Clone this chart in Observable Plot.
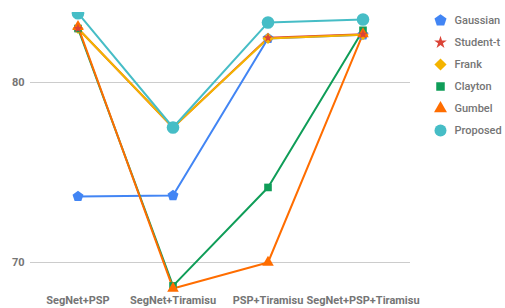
<!DOCTYPE html>
<html>
<head>
<meta charset="utf-8">
<script src="https://cdn.jsdelivr.net/npm/d3@7"></script>
<script src="https://cdn.jsdelivr.net/npm/@observablehq/plot@0.6"></script>
<style>
  html, body { margin: 0; padding: 0; background: #fff; }
  #wrap { position: relative; width: 505px; height: 308px; font-family: Roboto, sans-serif; }
  #legend { position: absolute; left: 430px; top: 0px; }
</style>
</head>
<body>
<div id="wrap"><div id="chart"></div><div id="legend"></div></div>
<script>
const categories = ["SegNet+PSP", "SegNet+Tiramisu", "PSP+Tiramisu", "SegNet+PSP+Tiramisu"];
const series = ["Gaussian", "Student-t", "Frank", "Clayton", "Gumbel", "Proposed"];
const gaussian = [73.67, 73.72, 82.45, 82.65];
const studentT = [83.0, 77.5, 82.48, 82.68];
const frank    = [83.0, 77.5, 82.45, 82.65];
const clayton  = [83.0, 68.7, 74.17, 82.9];
const gumbel   = [83.1, 68.56, 70.0, 82.7];
const proposed = [83.85, 77.5, 83.33, 83.5];
const colors = ["#4285F4", "#DB4437", "#F4B400", "#0F9D58", "#FF6D00", "#46BDC6"];
const yTicks = [70, 80];

const pentagon = {
  draw(context, size) {
    const r = Math.sqrt(size / 2.378);
    for (let k = 0; k < 5; k++) {
      const a = -Math.PI / 2 + k * 2 * Math.PI / 5;
      const px = r * Math.cos(a), py = r * Math.sin(a);
      if (k === 0) context.moveTo(px, py); else context.lineTo(px, py);
    }
    context.closePath();
  }
};
const symbols = [pentagon, d3.symbolStar, "diamond2", "square", "triangle", "circle"];
const markerR = [5, 3, 5, 4.3, 4.3, 6.3];
const legendR = [5.5, 4, 5.5, 4.8, 4.8, 6];

const valuesBySeries = [gaussian, studentT, frank, clayton, gumbel, proposed];
const data = [];
series.forEach((s, i) => categories.forEach((c, j) => data.push({series: s, cat: c, value: valuesBySeries[i][j], r: markerR[i]})));

const colorScale = {domain: series, range: colors};
const symbolScale = {domain: series, range: symbols};

const chart = Plot.plot({
  width: 505,
  height: 308,
  marginLeft: 30,
  marginRight: 95,
  marginTop: 12,
  marginBottom: 20,
  style: {fontFamily: "Roboto, sans-serif", fontSize: "11px", color: "#757575", background: "transparent"},
  x: {type: "band", domain: categories, padding: 0},
  y: {domain: [68.556, 83.889]},
  r: {type: "identity"},
  color: colorScale,
  symbol: symbolScale,
  marks: [
    Plot.gridY(yTicks, {stroke: "#cccccc", strokeOpacity: 1}),
    Plot.axisY(yTicks, {tickSize: 0, tickPadding: 6, label: null, fill: "#757575", fontWeight: "bold"}),
    Plot.axisX({tickSize: 0, tickPadding: 8, label: null, fill: "#757575", fontWeight: "bold"}),
    Plot.line(data, {x: "cat", y: "value", z: "series", stroke: "series", strokeWidth: 2}),
    Plot.dot(data.filter(d => d.series !== "Proposed"), {x: "cat", y: "value", symbol: "series", fill: "series", r: "r"}),
    Plot.dot(data.filter(d => d.series === "Proposed"), {x: "cat", y: "value", symbol: "series", fill: "series", r: "r", clip: true})
  ]
});
document.getElementById("chart").appendChild(chart);

const legend = Plot.plot({
  width: 75,
  height: 150,
  margin: 0,
  style: {fontFamily: "Roboto, sans-serif", fontSize: "11px", background: "transparent"},
  x: {type: "linear", domain: [0, 75], range: [0, 75], axis: null},
  y: {type: "point", domain: series, range: [19, 131], padding: 0, axis: null},
  r: {type: "identity"},
  color: colorScale,
  symbol: symbolScale,
  marks: [
    Plot.dot(series, {x: () => 10, y: d => d, symbol: d => d, fill: d => d, r: (d, i) => legendR[i]}),
    Plot.text(series, {x: () => 24, y: d => d, text: d => d, textAnchor: "start", fill: "#757575", fontWeight: 500})
  ]
});
document.getElementById("legend").appendChild(legend);
</script>
</body>
</html>
